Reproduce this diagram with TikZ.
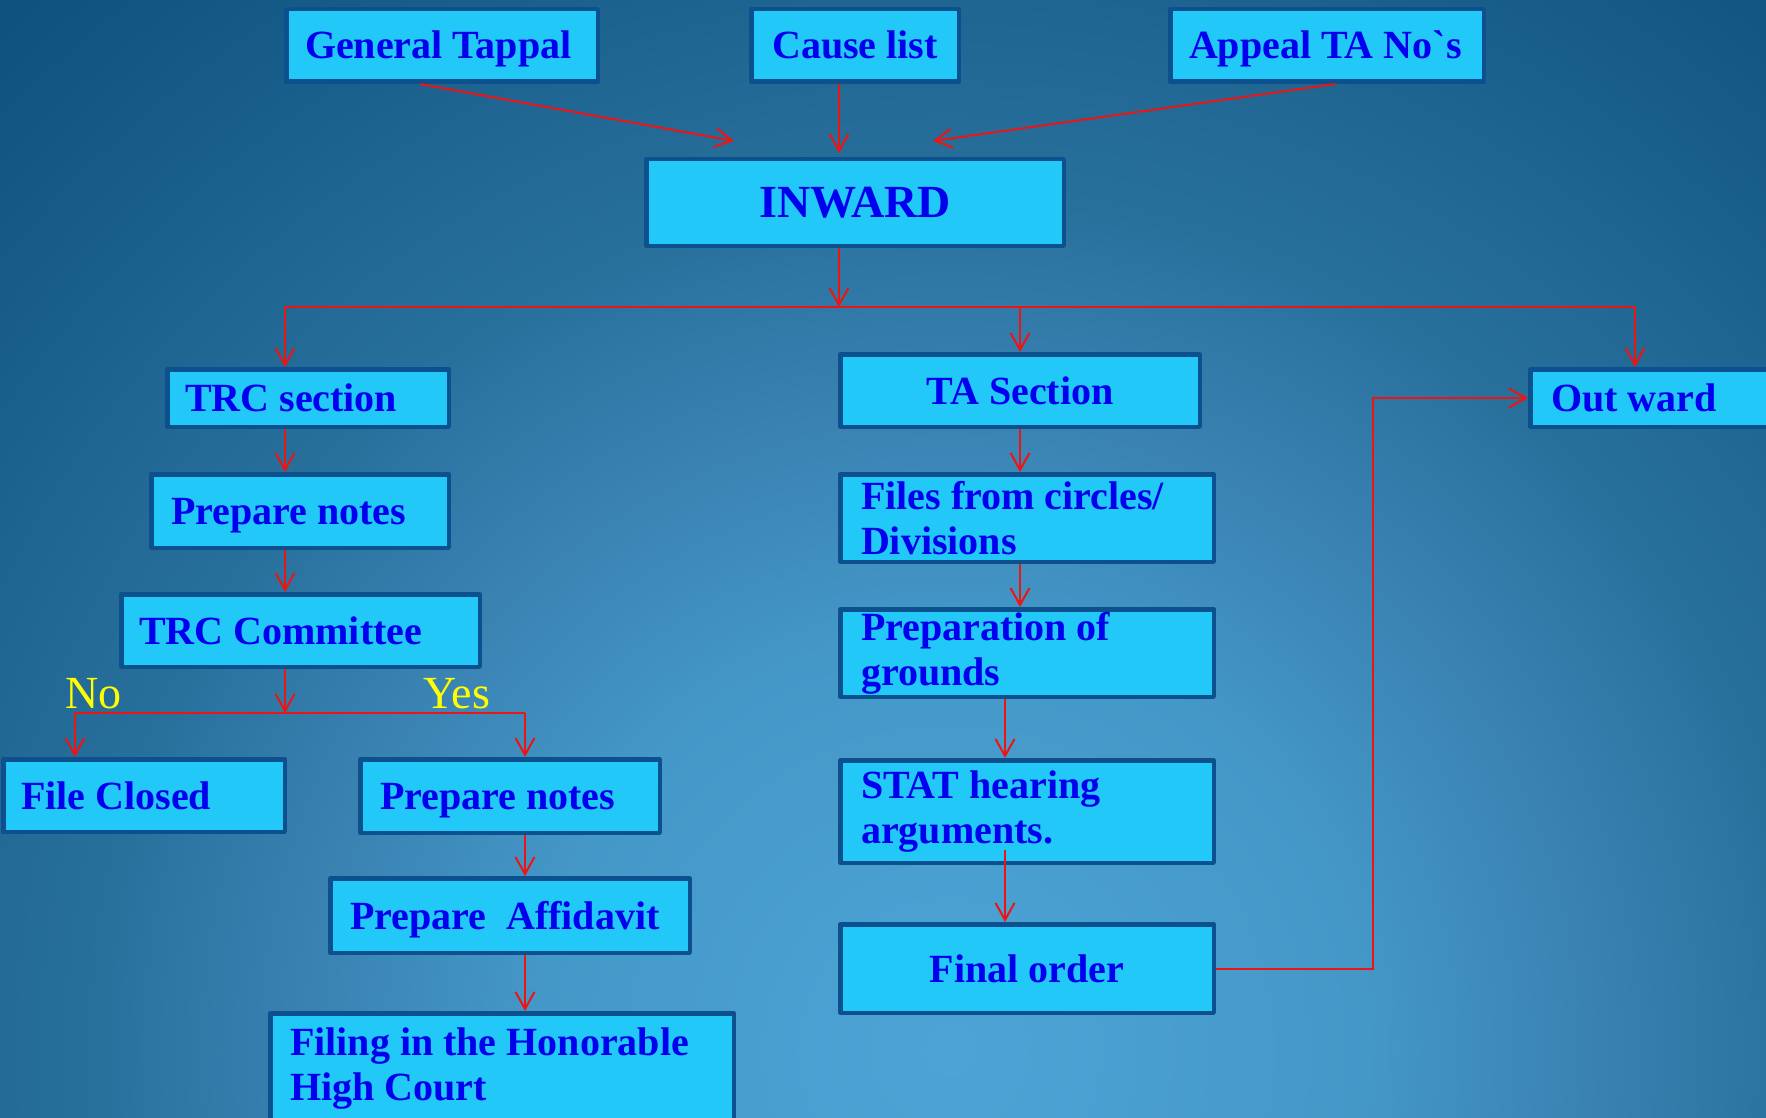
\documentclass[tikz,border=0pt]{standalone}
\usepackage{fontspec}
\setmainfont{Liberation Serif}
\usetikzlibrary{arrows.meta,calc}

% palette
\definecolor{boxfill}{RGB}{34,200,248}
\definecolor{boxedge}{RGB}{12,80,142}
\definecolor{txtblue}{RGB}{0,0,238}
\definecolor{flowred}{RGB}{238,20,20}
\definecolor{noteyellow}{RGB}{255,255,0}
\definecolor{bgA}{RGB}{76,164,214}
\definecolor{bgB}{RGB}{68,152,200}
\definecolor{bgC}{RGB}{56,128,176}
\definecolor{bgD}{RGB}{40,112,156}
\definecolor{bgE}{RGB}{32,102,146}
\definecolor{bgF}{RGB}{16,84,130}
\definecolor{bgG}{RGB}{12,78,122}

% soft glow behind the chart, radii at natural size
\pgfdeclareradialshading{bgglow}{\pgfpoint{0bp}{0bp}}{%
  color(0bp)=(bgA); color(410bp)=(bgB); color(660bp)=(bgC);
  color(850bp)=(bgD); color(1030bp)=(bgE); color(1340bp)=(bgF);
  color(1500bp)=(bgG)}

% left-aligned single line, and a ragged two-line block
\newcommand\lbtext[2]{\makebox[#1][l]{#2}}
\newcommand\mltext[2]{\parbox{#1}{\raggedright #2}}

\begin{document}
\begin{tikzpicture}[x=1pt, y=-1pt,
  flowbox/.style={draw=boxedge, line width=4.5pt, line join=round, fill=boxfill,
    inner sep=0pt, text=txtblue, font=\bfseries\fontsize{40}{45}\selectfont},
  oneline/.style={text height=27pt, text depth=0pt},
  link/.style={draw=flowred, line width=2pt},
  arr/.style={link, -{Straight Barb[length=17pt,width=19pt]}},
  answer/.style={text=noteyellow, font=\fontsize{46}{50}\selectfont,
    inner sep=0pt, anchor=base west}]

\useasboundingbox (0,0) rectangle (1766,1118);
\clip (0,0) rectangle (1766,1118);
% background glow, centred low in the middle of the page
\node[inner sep=0pt, outer sep=0pt] (glow) at (950,1050) {\pgfuseshading{bgglow}};

% sources
\node[flowbox, oneline, minimum width=311.5pt, minimum height=72.5pt] (tap) at (442,45.5) {\lbtext{274pt}{General Tappal}};
\node[flowbox, oneline, minimum width=207.5pt, minimum height=72.5pt] (cause) at (855,45.5) {Cause list};
\node[flowbox, oneline, minimum width=313.5pt, minimum height=72.5pt] (appeal) at (1327,45.5) {\lbtext{276pt}{Appeal TA No\textasciigrave s}};

\node[flowbox, minimum width=417.5pt, minimum height=86.5pt,
  font=\bfseries\fontsize{46}{50}\selectfont, text height=30.5pt, text depth=0pt] (inw) at (855,202.5) {INWARD};

% sections
\node[flowbox, oneline, minimum width=281.5pt, minimum height=57.5pt] (trcs) at (308,398) {\lbtext{246pt}{TRC section}};
\node[flowbox, oneline, minimum width=359.5pt, minimum height=72.5pt] (tas) at (1020,390.5) {TA Section};
\node[flowbox, oneline, minimum width=267.5pt, minimum height=57.5pt] (outw) at (1664,398) {\lbtext{226pt}{Out ward}};

% TRC branch
\node[flowbox, oneline, minimum width=297.5pt, minimum height=73.5pt] (pn1) at (300,511) {\lbtext{258pt}{Prepare notes}};
\node[flowbox, oneline, minimum width=358.5pt, minimum height=72.5pt] (trcc) at (300.5,630.5) {\lbtext{323pt}{TRC Committee}};
\node[flowbox, oneline, minimum width=281.5pt, minimum height=72.5pt] (fclosed) at (144,795.5) {\lbtext{246pt}{File Closed}};
\node[flowbox, oneline, minimum width=299.5pt, minimum height=73.5pt] (pn2) at (510,796) {\lbtext{260pt}{Prepare notes}};
\node[flowbox, oneline, minimum width=359.5pt, minimum height=74.5pt] (aff) at (510,915.5) {\lbtext{320pt}{Prepare\ \ Affidavit}};
\node[flowbox, minimum width=463.5pt, minimum height=110.5pt] (filing) at (502,1068.5) {\mltext{424pt}{Filing in the Honorable\\High Court}};

% TA branch
\node[flowbox, minimum width=373.5pt, minimum height=87.5pt] (files) at (1027,518) {\mltext{332pt}{Files from circles/\\Divisions}};
\node[flowbox, minimum width=373.5pt, minimum height=87.5pt] (prep) at (1027,653) {\mltext{332pt}{Preparation of\\grounds}};
\node[flowbox, minimum width=373.5pt, minimum height=102.5pt] (stat) at (1027,811.5) {\mltext{332pt}{STAT hearing\\arguments.}};
\node[flowbox, oneline, minimum width=373.5pt, minimum height=88.5pt] (fin) at (1027,968.5) {Final order};

% branch points
\coordinate (bus) at (839,307);
\coordinate (busL) at (285,307);
\coordinate (busR) at (1635,307);
\coordinate (split) at (285,713);
\coordinate (splitL) at (75,713);
\coordinate (splitR) at (525,713);
\coordinate (turn) at (1373,398);

% connectors
\draw[arr] ($(tap.south)+(-22,0)$) -- ($(inw.north)+(-121,-16)$);
\draw[arr] ($(cause.south)+(-16,0)$) -- ($(inw.north)+(-16,-4)$);
\draw[arr] ($(appeal.south)+(8,0)$) -- ($(inw.north)+(78,-16)$);
\draw[arr] (inw.south -| bus) -- (bus);
\draw[link] (busL) -- (busR);
\draw[arr] (busL) -- (busL |- trcs.north);
\draw[arr] (bus -| tas.north) -- (tas.north);
\draw[arr] (busR) -- (busR |- outw.north);

\draw[arr] (trcs.south -| busL) -- (pn1.north -| busL);
\draw[arr] (pn1.south -| busL) -- (trcc.north -| busL);
\draw[arr] (trcc.south -| split) -- (split);
\draw[link] (splitL) -- (splitR);
\draw[arr] (splitL) -- (splitL |- fclosed.north);
\draw[arr] (splitR) -- (splitR |- pn2.north);
\draw[arr] (pn2.south -| splitR) -- (aff.north -| splitR);
\draw[arr] (aff.south -| splitR) -- (filing.north -| splitR);

\draw[arr] (tas.south) -- (files.north -| tas.south);
\draw[arr] (files.south -| tas.south) -- (prep.north -| tas.south);
\draw[arr] ($(prep.south)+(-22,0)$) -- ($(stat.north)+(-22,0)$);
\draw[arr] ($(stat.south)+(-22,-15)$) -- ($(fin.north)+(-22,0)$);
\draw[arr] (fin.east) -| (turn) -- (outw.west);

% decision labels
\node[answer] (no) at (65,708) {No};
\node[answer] (yes) at (423,708) {Yes};
\end{tikzpicture}
\end{document}
